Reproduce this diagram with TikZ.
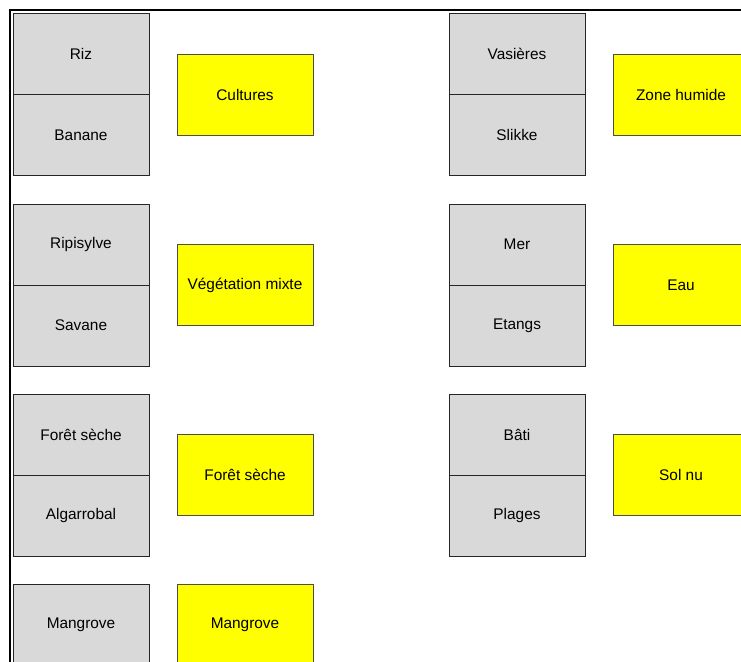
\documentclass[tikz,border=0pt]{standalone}
\usepackage{fontspec}
\setmainfont{Liberation Sans}
\usepackage{xcolor}
\usepackage{tikz}
\usetikzlibrary{positioning,calc}
\definecolor{classgray}{HTML}{D9D9D9}
\definecolor{classyellow}{HTML}{FFFF00}

\begin{document}
\begin{tikzpicture}[x=1pt,y=-1pt, line cap=rect,line join=miter,
  font=\fontsize{15.4}{18}\selectfont,
  oldclass/.style={draw=black!85,fill=classgray,line width=0.9pt,minimum width=136pt,minimum height=81pt,inner sep=0pt,outer sep=0pt},
  newclass/.style={draw=black!70,fill=classyellow,line width=0.9pt,minimum width=136pt,minimum height=81pt,inner sep=0pt,outer sep=0pt,anchor=west}]
\useasboundingbox (0,0) rectangle (741,661);
\clip (0,0) rectangle (741,661);
% frame
\draw[line width=2pt] (741,10) -- (10,10) -- (10,661);
% left column
\node[oldclass] (riz) at (81,54) {Riz};
\node[oldclass,below=0pt of riz] (banane) {Banane};
\node[newclass,right=28pt of riz.south east] (cultures) {Cultures};

\node[oldclass] (ripisylve) at (81,244.5) {Ripisylve};
\node[oldclass,below=0pt of ripisylve] (savane) {Savane};
\node[newclass,right=28pt of ripisylve.south east] (vegmixte) {Végétation mixte};

\node[oldclass] (foretA) at (81,434.5) {Forêt sèche};
\node[oldclass,below=0pt of foretA] (algarrobal) {Algarrobal};
\node[newclass,right=28pt of foretA.south east] (foretB) {Forêt sèche};

\node[oldclass] (mangroveA) at (81,624.5) {Mangrove};
\node[newclass,right=28pt of mangroveA.east] (mangroveB) {Mangrove};
% right column
\node[oldclass] (vasieres) at (517,54) {Vasières};
\node[oldclass,below=0pt of vasieres] (slikke) {Slikke};
\node[newclass,right=28pt of vasieres.south east] (zonehumide) {Zone humide};

\node[oldclass] (mer) at (517,244.5) {Mer};
\node[oldclass,below=0pt of mer] (etangs) {Etangs};
\node[newclass,right=28pt of mer.south east] (eau) {Eau};

\node[oldclass] (bati) at (517,434.5) {Bâti};
\node[oldclass,below=0pt of bati] (plages) {Plages};
\node[newclass,right=28pt of bati.south east] (solnu) {Sol nu};
\end{tikzpicture}
\end{document}
